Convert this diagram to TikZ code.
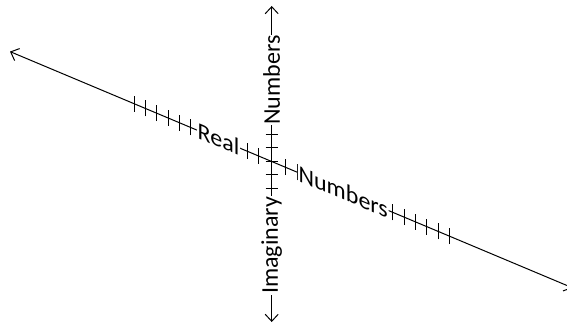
\documentclass[tikz,border=0pt]{standalone}
\usepackage{fontspec}
\setmainfont{Carlito}
\usetikzlibrary{arrows.meta}

\begin{document}
\begin{tikzpicture}[
  x=1pt, y=1pt,
  axis/.style={line width=1pt,
               {Straight Barb[length=7pt, width=13pt]}-{Straight Barb[length=7pt, width=13pt]}},
  tick/.style={line width=1pt},
  lbl/.style={fill=white, inner sep=0.8pt, font=\fontsize{24}{24}\selectfont},
]
  \clip (0,0) rectangle (567,324);

  % Imaginary axis
  \coordinate (origin) at (271.7,162.5);
  \coordinate (itop)   at (271.7,318);
  \coordinate (ibot)   at (271.7,2);
  \draw[axis] (ibot) -- (itop);
  \foreach \t in {-27,-13.5,0,13.5,27}
    \draw[tick] ([xshift=-6pt, yshift=\t pt]origin) -- ([xshift=6pt, yshift=\t pt]origin);
  \node[lbl, rotate=90] (inum) at (271.7,244)  {Numbers};
  \node[lbl, rotate=90] (imag) at (271.7,78.5) {Imaginary};

  % Real axis (sheared)
  \begin{scope}[shift={(origin)}, yslant=-0.42, transform shape]
    \coordinate (rleft)  at (-261.7,0);
    \coordinate (rright) at (301,0);
    \draw[axis] (rleft) -- (rright);
    \foreach \t in {-137.7,-126.35,-115,-103.65,-92.3,-80.95,
                    -24.7,-13.2,0,13.3,25.8,
                    121,132.35,143.7,155.05,166.4,177.75}
      \draw[tick] (\t,-8) -- (\t,8);
    \node[lbl] (rreal) at (-53.2,0) {Real};
    \node[lbl] (rnum)  at (71.5,0)  {Numbers};
  \end{scope}
\end{tikzpicture}
\end{document}
